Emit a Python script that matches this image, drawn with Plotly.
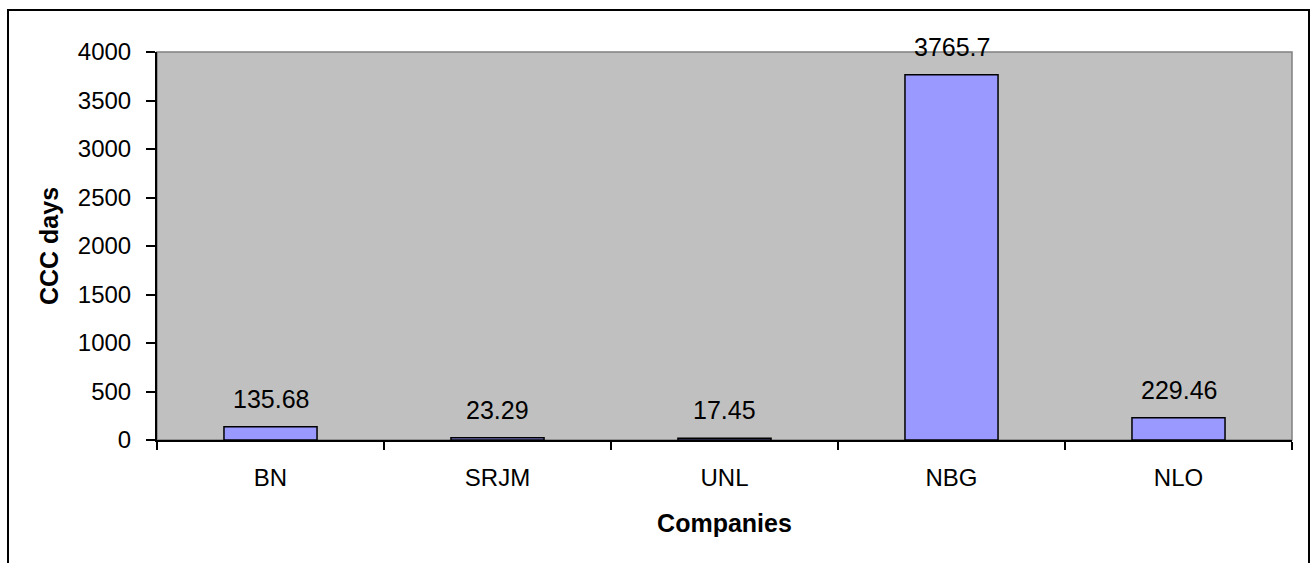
import plotly.graph_objects as go

companies = ["BN", "SRJM", "UNL", "NBG", "NLO"]
ccc_days = [135.68, 23.29, 17.45, 3765.7, 229.46]
labels = ["135.68", "23.29", "17.45", "3765.7", "229.46"]

L, R, T, B = 157, 22, 52, 123
W, H = 1314, 563
pw, ph = W - L - R, H - T - B

fig = go.Figure()
fig.add_trace(go.Bar(
    x=companies, y=ccc_days, width=0.41,
    marker=dict(color="#9999FF", line=dict(color="black", width=1.5)),
    hoverinfo="x+y",
))

fam = "Liberation Sans, Arial, sans-serif"
font = dict(family=fam, size=24, color="black")
dfont = dict(family=fam, size=25, color="black")
tfont = dict(family=fam, size=25, color="black")

for c, v, t in zip(companies, ccc_days, labels):
    fig.add_annotation(x=c, y=v, text=t, showarrow=False, yanchor="bottom",
                       yshift=12, font=dfont)

# plot area border (gray) and outer chart border
fig.add_shape(type="rect", xref="paper", yref="paper", x0=0, x1=1, y0=0, y1=1,
              line=dict(color="#808080", width=1.5), layer="below")
fig.add_shape(type="rect", xref="paper", yref="paper",
              x0=(8 - L) / pw, x1=(1309 - L) / pw,
              y0=-(H + 10 - (T + ph)) / ph, y1=(T + ph - 10) / ph,
              line=dict(color="black", width=2))

fig.update_layout(
    width=W, height=H,
    margin=dict(l=L, r=R, t=T, b=B),
    paper_bgcolor="white", plot_bgcolor="#C0C0C0",
    showlegend=False, font=font,
)
fig.update_xaxes(
    title=dict(text="<b>Companies</b>", font=tfont, standoff=25),
    showline=True, linecolor="black", linewidth=2,
    ticks="outside", tickson="boundaries", ticklen=8, tickcolor="black", tickwidth=2,
    ticklabelstandoff=15, tickfont=font, showgrid=False,
)
fig.update_yaxes(
    title=dict(text="<b>CCC days</b>", font=tfont, standoff=12),
    range=[0, 4000], dtick=500, showline=True, linecolor="black", linewidth=2,
    ticks="outside", ticklen=9, tickcolor="black", tickwidth=2,
    ticklabelstandoff=10, tickfont=font, showgrid=False, zeroline=False,
)

fig.write_html("out.html")
